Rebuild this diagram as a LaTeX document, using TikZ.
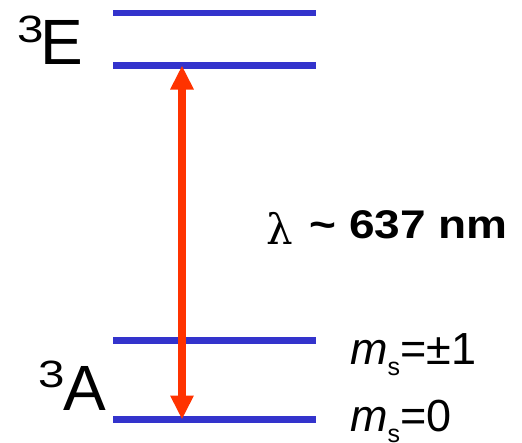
\documentclass[tikz,border=0pt]{standalone}
\usepackage{fontspec}
\setmainfont{Liberation Sans}
\newfontfamily\lamfont{DejaVu Serif}
\usetikzlibrary{arrows.meta}
\definecolor{lvlblue}{HTML}{3333CC}
\definecolor{arrred}{HTML}{FF3300}
\tikzset{
  level/.style={draw=lvlblue, line width=6.5pt},
  trans/.style={draw=arrred, line width=7.5pt, {Triangle[width=22pt,length=24pt]}-{Triangle[width=22pt,length=24pt]}},
  lbl/.style={inner sep=0pt, anchor=base west},
}
\begin{document}
\begin{tikzpicture}[x=1pt,y=-1pt]
\useasboundingbox (0,0) rectangle (522,442);
% levels
\coordinate (e1l) at (113,13);   \coordinate (e1r) at (316,13);
\coordinate (e2l) at (113,65.5); \coordinate (e2r) at (316,65.5);
\coordinate (a1l) at (113,340.5);\coordinate (a1r) at (316,340.5);
\coordinate (a0l) at (113,419.5);\coordinate (a0r) at (316,419.5);
\draw[level] (e1l) -- (e1r);
\draw[level] (e2l) -- (e2r);
\draw[level] (a1l) -- (a1r);
\draw[level] (a0l) -- (a0r);
% transition
\coordinate (tTop) at (182,65.5);
\coordinate (tBot) at (182,419.5);
\draw[trans] (tTop) -- (tBot);
% labels
\node[lbl, font=\fontsize{38}{38}\selectfont] (e3) at (17.5,42) {\scalebox{1.25}[1]{3}};
\node[lbl, font=\fontsize{64}{64}\selectfont] (eE) at (40,64) {E};
\node[lbl, font=\fontsize{38}{38}\selectfont] (a3) at (38.5,387) {\scalebox{1.25}[1]{3}};
\node[lbl, font=\fontsize{64}{64}\selectfont] (aA) at (63,410) {A};
\node[lbl, font=\lamfont\fontsize{42}{42}\selectfont] (lam) at (266,244) {λ};
\node[inner sep=0pt, anchor=base east, font=\bfseries\fontsize{40}{40}\selectfont] (wl) at (508,238) {\scalebox{1.15}[1]{\textasciitilde\ 637 nm}};
\node[lbl, font=\fontsize{45}{45}\selectfont] (ms1) at (350,364) {\textit{m}\raisebox{-11pt}{\fontsize{25}{25}\selectfont s}=±1};
\node[lbl, font=\fontsize{45}{45}\selectfont] (ms0) at (350,431) {\textit{m}\raisebox{-11pt}{\fontsize{25}{25}\selectfont s}=0};
\end{tikzpicture}
\end{document}
